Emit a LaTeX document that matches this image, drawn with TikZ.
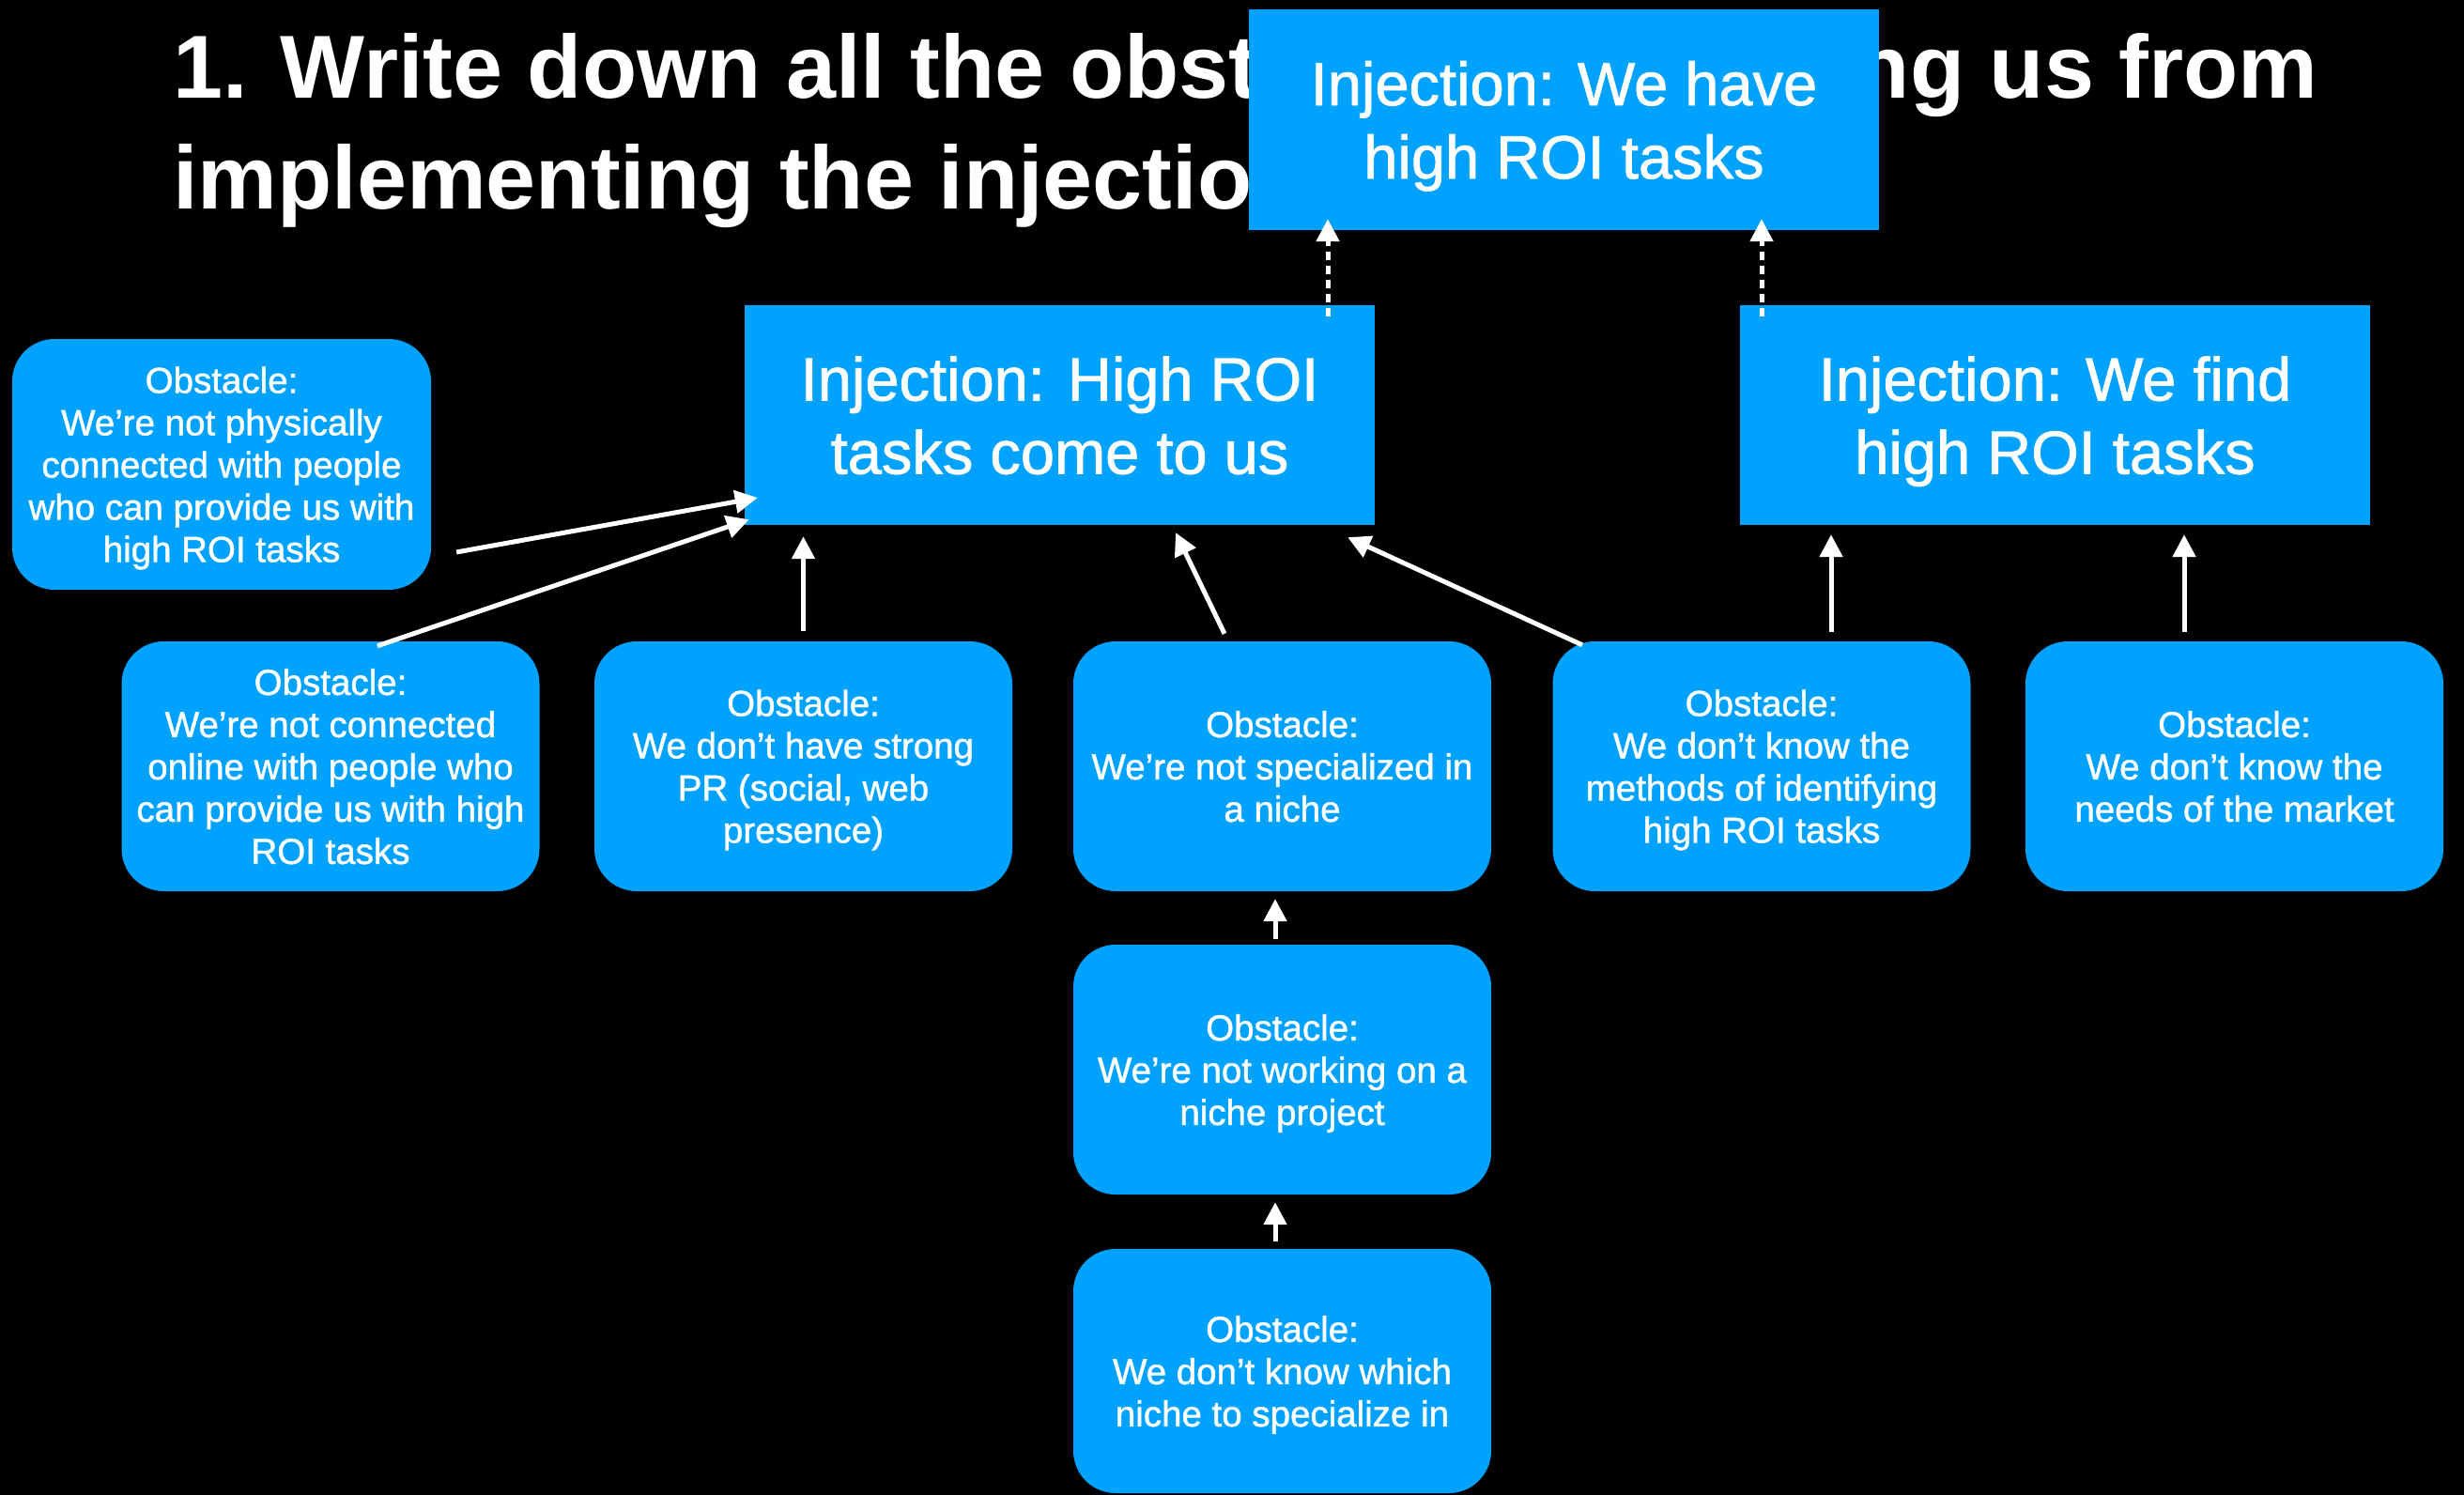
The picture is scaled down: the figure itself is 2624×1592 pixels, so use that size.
\documentclass[tikz,border=0pt]{standalone}
\usepackage{fontspec}
\setmainfont{Liberation Sans}
\newfontfamily\boxfont[FakeBold=1.2]{Liberation Sans}
\usetikzlibrary{arrows.meta,calc}
\definecolor{kblue}{RGB}{0,162,255}
\begin{document}
\begin{tikzpicture}[x=1pt,y=-1pt,
  titletext/.style={text=white, inner sep=0pt, font=\bfseries\fontsize{95.3}{117}\selectfont},
  injbox/.style={rectangle, fill=kblue, text=white, minimum width=671pt, minimum height=234pt, inner sep=0pt, text depth=0pt, align=center, font=\boxfont\fontsize{65}{78}\selectfont},
  obsbox/.style={rectangle, rounded corners=45pt, fill=kblue, text=white, minimum width=445pt, minimum height=266pt, inner sep=0pt, text depth=0pt, align=center, font=\boxfont\fontsize{38.5}{45}\selectfont},
  arr/.style={draw=white, line width=5pt, -{Triangle[length=24pt,width=24pt]}},
  darr/.style={arr, line width=5pt, dash pattern=on 9pt off 6pt}]
\fill[black] (0,0) rectangle (2624,1592);
\useasboundingbox (0,0) rectangle (2624,1592);
% title
\node[titletext, anchor=base west] (title1) at (184,105) {1. Write down all the obstacles preventing us from};
\node[titletext, anchor=base west] (title2) at (184,222) {implementing the injection};
% injections
\node[injbox, minimum height=235pt] (T) at (1665.5,127.5) {Injection: We have\\high ROI tasks};
\node[injbox] (A) at (1128.5,442) {Injection: High ROI\\tasks come to us};
\node[injbox] (B) at (2188.5,442) {Injection: We find\\high ROI tasks};
% obstacles
\node[obsbox, minimum width=446pt, minimum height=267pt] (O1) at (236,494.5) {Obstacle:\\We’re not physically\\connected with people\\who can provide us with\\high ROI tasks};
\node[obsbox] (O2) at (352,816) {Obstacle:\\We’re not connected\\online with people who\\can provide us with high\\ROI tasks};
\node[obsbox] (O3) at (855.5,816) {Obstacle:\\We don’t have strong\\PR (social, web\\presence)};
\node[obsbox] (O4) at (1365.5,816) {Obstacle:\\We’re not specialized in\\a niche};
\node[obsbox] (O5) at (1876,816) {Obstacle:\\We don’t know the\\methods of identifying\\high ROI tasks};
\node[obsbox] (O6) at (2379.5,816) {Obstacle:\\We don’t know the\\needs of the market};
\node[obsbox] (O7) at (1365.5,1139) {Obstacle:\\We’re not working on a\\niche project};
\node[obsbox, minimum height=260pt] (O8) at (1365.5,1460) {Obstacle:\\We don’t know which\\niche to specialize in};
% connectors
\draw[arr] ($(O1.east)+(27,93.5)$) -- ($(A.west)+(14,88)$);
\draw[arr] ($(O2.north)+(50,5)$) -- ($(A.south west)+(5,-6)$);
\draw[arr] ($(O3.north)+(0,-11)$) -- ($(O3.north |- A.south)+(0,12)$);
\draw[arr] ($(O4.north)+(-61.5,-8)$) -- ($(A.south)+(123.5,8)$);
\draw[arr] ($(O5.north)+(-191,4)$) -- ($(A.south east)+(-29,13)$);
\draw[arr] ($(O5.north)+(74,-10)$) -- ($(B.south)+(-238.5,10)$);
\draw[arr] ($(O6.north)+(-53.5,-10)$) -- ($(B.south)+(137.5,10)$);
\draw[arr] ($(O7.north)+(-7.5,-6)$) -- ($(O4.south)+(-7.5,8)$);
\draw[arr] ($(O8.north)+(-7.5,-8)$) -- ($(O7.south)+(-7.5,8)$);
\draw[darr] ($(A.north)+(285.5,12)$) -- ($(T.south)+(-251.5,-12)$);
\draw[darr] ($(B.north)+(-312.5,12)$) -- ($(T.south)+(210.5,-12)$);
\end{tikzpicture}
\end{document}
